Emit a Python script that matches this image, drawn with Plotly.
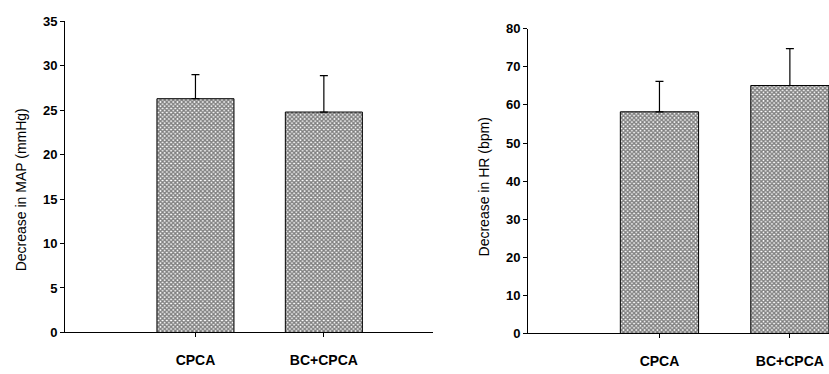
import plotly.graph_objects as go

categories = ["CPCA", "BC+CPCA"]
map_values = [26.3, 24.8]
map_err = [2.7, 4.1]
hr_values = [58.2, 65.1]
hr_err = [8.0, 9.7]
map_ticks = [0, 5, 10, 15, 20, 25, 30, 35]
hr_ticks = [0, 10, 20, 30, 40, 50, 60, 70, 80]

FONT = "Arial, Liberation Sans, sans-serif"
W, H = 829, 374

def px_x(p):
    return p / W

def px_y(p):
    return (H - p) / H

pattern = dict(shape="x", size=3, solidity=0.7, fgcolor="#000000", bgcolor="#ffffff")

fig = go.Figure()
fig.add_trace(go.Bar(
    x=categories, y=map_values, width=0.6,
    marker=dict(color="#ffffff", pattern=pattern, line=dict(color="black", width=1)),
    error_y=dict(type="data", array=map_err, arrayminus=[0, 0], color="black", thickness=1.2, width=4),
    xaxis="x", yaxis="y", showlegend=False))
fig.add_trace(go.Bar(
    x=categories, y=hr_values, width=0.6,
    marker=dict(color="#ffffff", pattern=pattern, line=dict(color="black", width=1)),
    error_y=dict(type="data", array=hr_err, arrayminus=[0, 0], color="black", thickness=1.2, width=4),
    xaxis="x2", yaxis="y2", showlegend=False))

axis_common = dict(showline=True, linecolor="black", linewidth=1, ticks="outside",
                   ticklen=4, tickwidth=1, tickcolor="black", showgrid=False, zeroline=False,
                   tickfont=dict(family=FONT, size=13, color="black", weight="bold"))

xfont = dict(family=FONT, size=14, color="black", weight="bold")

fig.update_layout(
    width=W, height=H, margin=dict(l=0, r=0, t=0, b=0),
    paper_bgcolor="white", plot_bgcolor="white",
    font=dict(family=FONT, color="black"),
    xaxis=dict(domain=[px_x(65), px_x(433)], range=[-1.016, 1.85], anchor="y",
               type="category", ticklabelstandoff=11, **{**axis_common, "tickfont": xfont}),
    yaxis=dict(domain=[px_y(339), px_y(15)], range=[0, 35], tickvals=map_ticks,
               anchor="x", **axis_common),
    xaxis2=dict(domain=[px_x(528), 1.0], range=[-1.008, 1.30], anchor="y2",
                type="category", ticklabelstandoff=11, **{**axis_common, "tickfont": xfont}),
    yaxis2=dict(domain=[px_y(340), px_y(22.7)], range=[0, 80], tickvals=hr_ticks,
                anchor="x2", **axis_common),
    annotations=[
        dict(text="Decrease in MAP (mmHg)", textangle=-90, x=px_x(21), y=px_y(191),
             xref="paper", yref="paper", xanchor="center", yanchor="middle", showarrow=False,
             font=dict(family=FONT, size=14, color="black")),
        dict(text="Decrease in HR (bpm)", textangle=-90, x=px_x(484), y=px_y(188),
             xref="paper", yref="paper", xanchor="center", yanchor="middle", showarrow=False,
             font=dict(family=FONT, size=14, color="black")),
    ],
)

fig.write_html("out.html", config={"displayModeBar": False},
               post_script="document.body.style.margin='0';")
